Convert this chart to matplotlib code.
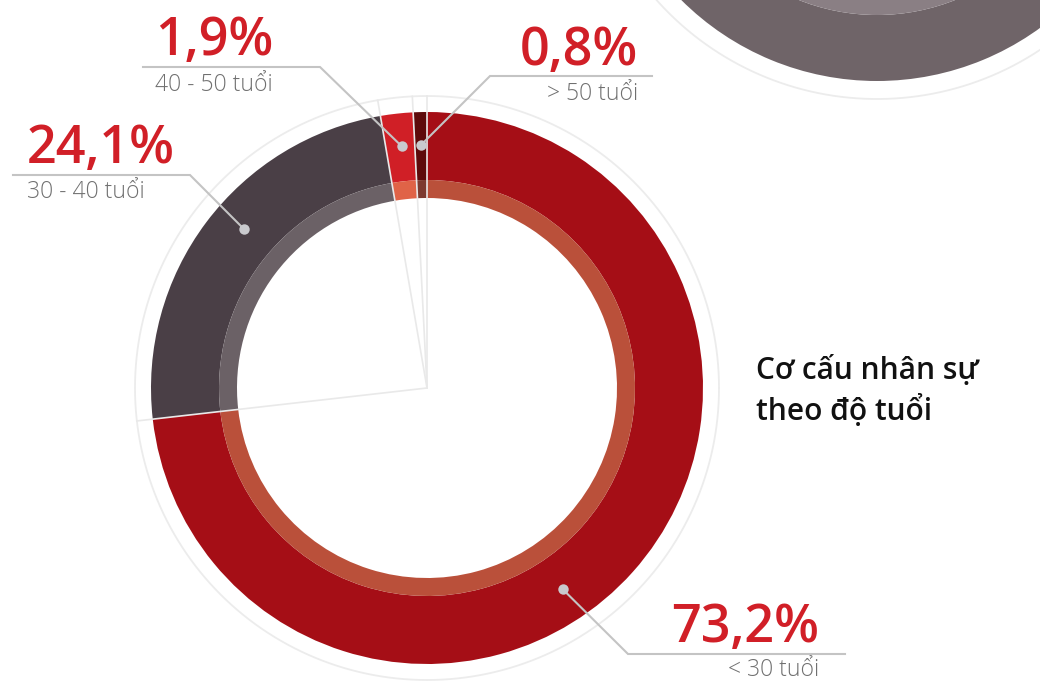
import matplotlib
matplotlib.use("Agg")
import matplotlib.pyplot as plt
import numpy as np

# Age structure of staff
groups = ["< 30 tuổi", "30 - 40 tuổi", "40 - 50 tuổi", "> 50 tuổi"]
shares = [73.2, 24.1, 1.9, 0.8]
pct_labels = ["73,2%", "24,1%", "1,9%", "0,8%"]
title_lines = ["Cơ cấu nhân sự", "theo độ tuổi"]

outer_colors = ["#A50E16", "#4A3F46", "#D01F26", "#5E0A0B"]
inner_colors = ["#BA503A", "#6B6166", "#E06347", "#7D3A30"]

W, H = 1040, 681
fig = plt.figure(figsize=(W / 100, H / 100), dpi=100)
ax = fig.add_axes([0, 0, 1, 1])

def py(y):
    # pixel row (from top) -> data y (from bottom)
    return H - y

cx, cy = 427, py(388)
R_OUT, R_MID, R_IN, R_RING = 276, 208, 190, 292

# main donut: outer band and lighter inner band
wedges, _ = ax.pie(shares, colors=outer_colors, startangle=90, counterclock=False,
                   radius=R_OUT, center=(cx, cy),
                   wedgeprops=dict(width=R_OUT - R_MID, linewidth=0))
ax.pie(shares, colors=inner_colors, startangle=90, counterclock=False,
       radius=R_MID, center=(cx, cy),
       wedgeprops=dict(width=R_MID - R_IN, linewidth=0))

# faint guide circle and radial separators
t = np.linspace(0, 2 * np.pi, 721)
ax.plot(cx + R_RING * np.cos(t), cy + R_RING * np.sin(t), color="#ECECEC", lw=1.3, zorder=3)
for w in wedges:
    a = np.deg2rad(w.theta1)
    ax.plot([cx, cx + R_RING * np.cos(a)], [cy, cy + R_RING * np.sin(a)],
            color="#E9E9E9", lw=1.2, zorder=4)

# decorative donut in the upper right corner
c2 = (877, py(-196))
ax.pie([1], colors=["#6F6468"], radius=277, center=c2, startangle=90,
       wedgeprops=dict(width=277 - 211, linewidth=0))
ax.pie([1], colors=["#8A7F84"], radius=211, center=c2, startangle=90,
       wedgeprops=dict(width=20, linewidth=0))
ax.plot(c2[0] + 295 * np.cos(t), c2[1] + 295 * np.sin(t), color="#ECECEC", lw=1.3, zorder=3)

# callouts: anchor fraction along wedge, elbow, line end, text anchor
callouts = [
    dict(frac=0.554, elbow=(628, 654), end=(845, 654), tx=819, ha="right", pb=642, lb=676),
    dict(frac=0.547, elbow=(190, 175), end=(13, 175), tx=27, ha="left", pb=163, lb=198),
    dict(frac=0.55, elbow=(320, 67), end=(143, 67), tx=155, ha="left", pb=55, lb=91),
    dict(frac=0.5, elbow=(490, 76), end=(652, 76), tx=638, ha="right", pb=65, lb=100),
]
R_DOT = 243
for w, c, pl, g in zip(wedges, callouts, pct_labels, groups):
    ang = np.deg2rad(w.theta2 - c["frac"] * (w.theta2 - w.theta1))
    dx, dy = cx + R_DOT * np.cos(ang), cy + R_DOT * np.sin(ang)
    ax.plot([dx, c["elbow"][0], c["end"][0]],
            [dy, py(c["elbow"][1]), py(c["end"][1])],
            color="#C4C4C4", lw=1.5, zorder=5, solid_joinstyle="miter")
    ax.plot([dx], [dy], "o", ms=7.5, color="#C9C9CD", mec="none", zorder=6)
    ax.text(c["tx"], py(c["pb"]), pl, ha=c["ha"], va="baseline", color="#D11F27",
            fontsize=37.5, fontweight="semibold", family=["Open Sans", "DejaVu Sans"], zorder=7)
    ax.text(c["tx"], py(c["lb"]), g, ha=c["ha"], va="baseline", color="#707070",
            fontsize=16.5, fontweight="light", family=["Open Sans", "DejaVu Sans"], zorder=7)

# title
for i, line in enumerate(title_lines):
    ax.text(756, py(379 + 41 * i), line, ha="left", va="baseline", color="#111111",
            fontsize=21.5, fontweight="semibold", family=["Open Sans", "DejaVu Sans"])

ax.set_xlim(0, W)
ax.set_ylim(0, H)
ax.set_aspect("equal")
ax.axis("off")
fig.savefig("out.png", dpi=100)
